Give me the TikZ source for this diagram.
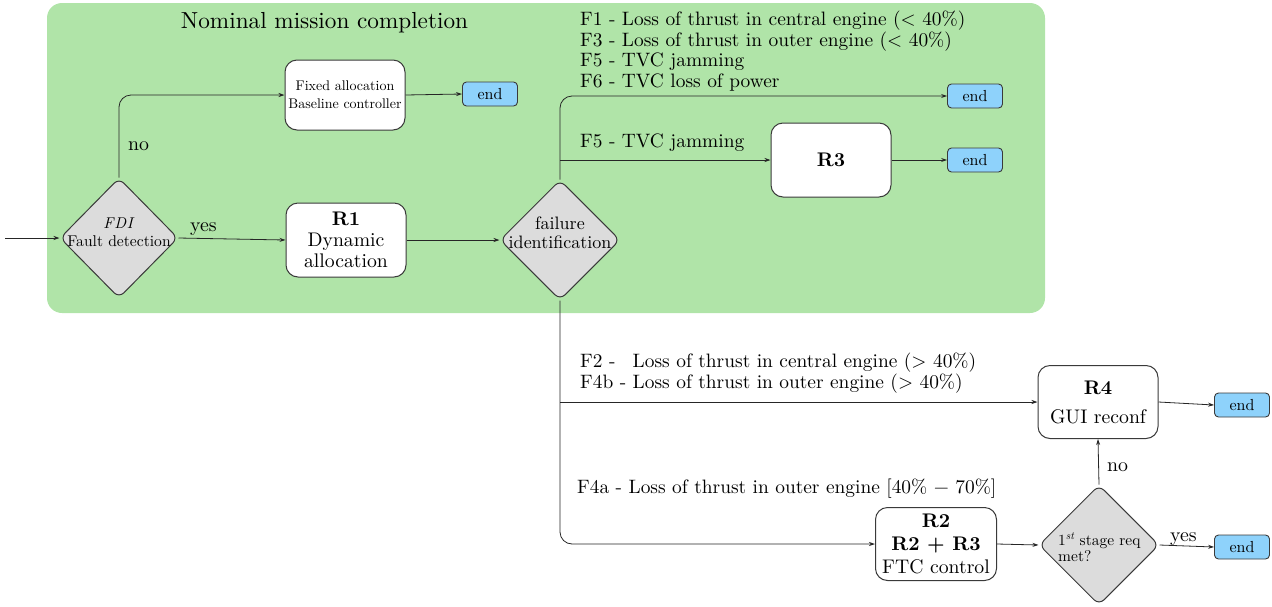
\documentclass[tikz,border=0pt]{standalone}
\usepackage{fontspec}
\setmainfont{lmroman10}[Extension=.otf, UprightFont=*-regular, BoldFont=*-bold, ItalicFont=*-italic, BoldItalicFont=*-bolditalic]
\usetikzlibrary{shapes.geometric,arrows.meta}
\definecolor{nomgreen}{HTML}{B0E4A8}
\definecolor{endblue}{HTML}{8ED2FB}
\definecolor{dgray}{HTML}{DCDCDC}
\definecolor{edgec}{HTML}{3A3A3A}
\newcommand\fsz[2]{\fontsize{#1}{#2}\selectfont}
\tikzset{
  rbox/.style={draw=edgec, line width=1pt, fill=white, rounded corners=12pt,
    minimum width=120pt, minimum height=74pt, align=center, inner sep=2pt, font=\fsz{19.7}{21}},
  endbox/.style={draw=edgec, line width=0.9pt, fill=endblue, rounded corners=4pt,
    minimum width=55pt, minimum height=24pt, inner sep=0pt, font=\fsz{16}{18}},
  dia/.style={draw=edgec, line width=1pt, fill=dgray, diamond, rounded corners=7pt,
    minimum width=120pt, minimum height=120pt, inner sep=0pt},
  diatext/.style={anchor=base, inner sep=0pt},
  conn/.style={draw=black!85, line width=0.8pt, -{Stealth[length=6pt,width=4pt]}},
  lbl/.style={anchor=base west, inner sep=0pt, font=\fsz{19.4}{21}},
  edgelbl/.style={anchor=base west, inner sep=0pt, font=\fsz{19.8}{21}}
}
\begin{document}
\begin{tikzpicture}[x=1pt,y=-1pt]
\useasboundingbox (0,0) rectangle (1272,606);
% nominal region
\node[fill=nomgreen, rounded corners=15pt, minimum width=998pt, minimum height=310pt, inner sep=0pt] (nominal) at (546,158) {};
\node[anchor=base, inner sep=0pt, font=\fsz{23.2}{25}] (title) at (324.5,28) {Nominal mission completion};

% nodes
\coordinate (in) at (5,238);
\node[dia, minimum width=118pt, minimum height=120pt] (fdi) at (119,238) {};
\node[diatext, font=\fsz{15.6}{17}] (fdi-a) at (119,228) {\textit{F\kern0.8pt D\kern0.8pt I}};
\node[diatext, font=\fsz{15.6}{17}] (fdi-b) at (119,246) {Fault detection};
\node[rbox, font=\fsz{14}{18}, minimum height=70pt] (fixed) at (345,95) {Fixed allocation\\Baseline controller};
\node[endbox] (end1) at (490,94) {end};
\node[rbox] (r1) at (346,240) {\textbf{R1}\\Dynamic\\allocation};
\node[dia] (fail) at (560,240) {};
\node[diatext, font=\fsz{18}{19}] (fail-a) at (560,229) {failure};
\node[diatext, font=\fsz{18}{19}] (fail-b) at (560,248) {identification};
\node[endbox] (end2) at (975,96) {end};
\node[rbox] (r3) at (831,160) {\textbf{R3}};
\node[endbox] (end3) at (975,160) {end};
\node[rbox, minimum height=73pt] (r4) at (1098,402) {\textbf{R4}\\[8pt]GUI reconf};
\node[endbox] (end4) at (1242,405) {end};
\node[rbox, minimum width=121pt, minimum height=73pt, font=\fsz{19.7}{23}] (r2) at (936,544) {\textbf{R2}\\\textbf{R2 + R3}\\FTC control};
\node[dia] (req) at (1099,545) {};
\node[anchor=base west, inner sep=0pt, font=\fsz{15.5}{15}] (req-a) at (1058,545) {1\textsuperscript{\itshape st} stage req};
\node[anchor=base west, inner sep=0pt, font=\fsz{15.5}{15}] (req-b) at (1058,561) {met?};
\node[endbox] (end5) at (1242,547) {end};

% failure labels
\node[lbl] (f1) at (580,25) {F1 - Loss of thrust in central engine (< 40\%)};
\node[lbl] (f3) at (580,46) {F3 - Loss of thrust in outer engine (< 40\%)};
\node[lbl] (f5) at (580,66) {F5 - TVC jamming};
\node[lbl] (f6) at (580,87) {F6 - TVC loss of power};
\node[lbl] (f5b) at (580,147) {F5 - TVC jamming};
\node[lbl] (f2) at (580,367) {F2 -\hphantom{b} Loss of thrust in central engine (> 40\%)};
\node[lbl] (f4b) at (580,388) {F4b - Loss of thrust in outer engine (> 40\%)};
\node[lbl] (f4a) at (577,493) {F4a - Loss of thrust in outer engine [40\% − 70\%]};

% connectors
\draw[conn] (in) -- (fdi.west);
\draw[conn, rounded corners=12pt] (fdi.north) |- (fixed.west);
\node[edgelbl] (no1) at (128,150) {no};
\draw[conn] (fdi.east) -- (r1.west);
\node[edgelbl] (yes1) at (190,231) {yes};
\draw[conn] (fixed.east) -- (end1.west);
\draw[conn] (r1.east) -- (fail.west);
\draw[conn, rounded corners=12pt] (fail.north) |- (end2.west);
\draw[conn] (fail.north |- r3.west) -- (r3.west);
\draw[conn] (r3.east) -- (end3.west);
\draw[conn, rounded corners=12pt] (fail.south) |- (r2.west);
\draw[conn] (fail.south |- r4.west) -- (r4.west);
\draw[conn] (r4.east) -- (end4.west);
\draw[conn] (r2.east) -- (req.west);
\draw[conn] (req.north) -- (r4.south);
\node[edgelbl] (no2) at (1107,471) {no};
\draw[conn] (req.east) -- (end5.west);
\node[edgelbl] (yes2) at (1170,541) {yes};
\end{tikzpicture}
\end{document}
